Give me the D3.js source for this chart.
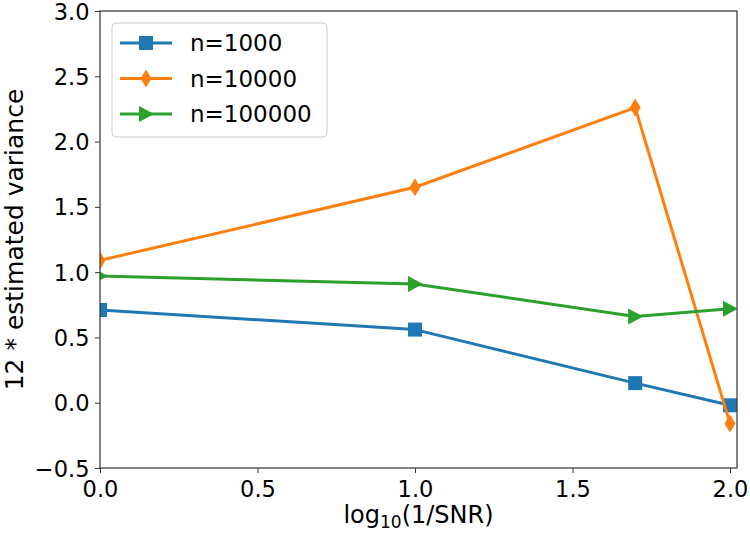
<!DOCTYPE html>
<html>
<head>
<meta charset="utf-8">
<script src="https://cdn.jsdelivr.net/npm/d3@7"></script>
<style>
  body { margin: 0; background: #fff; }
  svg { font-family: "DejaVu Sans", sans-serif; }
</style>
</head>
<body>
<div id="chart"></div>
<script>
// log10(1/SNR) positions
const xValues = [0, 1, Math.log10(50), 2];
const n1000 = [0.71, 0.56, 0.15, -0.02];
const n10000 = [1.09, 1.65, 2.26, -0.16];
const n100000 = [0.97, 0.91, 0.66, 0.72];
const seriesNames = ['n=1000', 'n=10000', 'n=100000'];
const xTicks = [0, 0.5, 1, 1.5, 2];
const yTicks = [-0.5, 0, 0.5, 1, 1.5, 2, 2.5, 3];

const width = 750;
const height = 533;
const margin = { top: 11, right: 13, bottom: 65, left: 100 };

const svg = d3.select('#chart')
  .append('svg')
  .attr('width', width)
  .attr('height', height);

const x = d3.scaleLinear()
  .domain([0, 2.0222])
  .range([margin.left, width - margin.right]);

const y = d3.scaleLinear()
  .domain([-0.5, 3.0])
  .range([height - margin.bottom, margin.top]);

svg.append('defs').append('clipPath')
  .attr('id', 'plot-clip')
  .append('rect')
  .attr('x', margin.left)
  .attr('y', margin.top)
  .attr('width', width - margin.left - margin.right)
  .attr('height', height - margin.top - margin.bottom);

// marker shapes
const square = 'M-7,-7H7V7H-7Z';
const thinDiamond = 'M0,-9L5.5,0L0,9L-5.5,0Z';
const triRight = 'M8,0L-7,-8L-7,8Z';

const series = [
  { name: seriesNames[0], values: n1000, color: '#1f77b4', marker: square },
  { name: seriesNames[1], values: n10000, color: '#ff7f0e', marker: thinDiamond },
  { name: seriesNames[2], values: n100000, color: '#2ca02c', marker: triRight }
];

const line = d3.line()
  .x((d, i) => x(xValues[i]))
  .y(d => y(d));

const plot = svg.append('g').attr('clip-path', 'url(#plot-clip)');

series.forEach(s => {
  const g = plot.append('g');
  g.append('path')
    .datum(s.values)
    .attr('fill', 'none')
    .attr('stroke', s.color)
    .attr('stroke-width', 3)
    .attr('stroke-linejoin', 'round')
    .attr('d', line);
  g.selectAll('.marker')
    .data(s.values)
    .enter()
    .append('path')
    .attr('transform', (d, i) => `translate(${x(xValues[i])},${y(d)})`)
    .attr('d', s.marker)
    .attr('fill', s.color);
});

// axes
const xAxis = svg.append('g')
  .attr('transform', `translate(0,${height - margin.bottom})`)
  .call(d3.axisBottom(x).tickValues(xTicks).tickFormat(d3.format('.1f')).tickSize(5).tickSizeOuter(0));

const yAxis = svg.append('g')
  .attr('transform', `translate(${margin.left},0)`)
  .call(d3.axisLeft(y).tickValues(yTicks).tickFormat(d3.format('.1f')).tickSize(5).tickSizeOuter(0));

[xAxis, yAxis].forEach(ax => {
  ax.select('.domain').remove();
  ax.selectAll('.tick line').attr('stroke', '#333').attr('stroke-width', 1);
  ax.selectAll('.tick text')
    .attr('fill', '#000')
    .style('font-size', '22.5px')
    .style('font-family', '"DejaVu Sans", sans-serif');
});
xAxis.selectAll('.tick text').attr('dy', '1.03em').attr('y', 6);
yAxis.selectAll('.tick text').attr('x', -10.5).attr('dy', '0.36em');

// spines
svg.append('rect')
  .attr('x', margin.left)
  .attr('y', margin.top)
  .attr('width', width - margin.left - margin.right)
  .attr('height', height - margin.top - margin.bottom)
  .attr('fill', 'none')
  .attr('stroke', '#333')
  .attr('stroke-width', 1.2);

// axis labels
const xLabel = svg.append('text')
  .attr('x', (margin.left + width - margin.right) / 2)
  .attr('y', 523)
  .attr('text-anchor', 'middle')
  .style('font-size', '24px');
xLabel.append('tspan').text('log');
xLabel.append('tspan').attr('dy', 5).style('font-size', '17px').text('10');
xLabel.append('tspan').attr('dy', -5).text('(1/SNR)');

svg.append('text')
  .attr('transform', `translate(23,${(margin.top + height - margin.bottom) / 2}) rotate(-90)`)
  .attr('text-anchor', 'middle')
  .style('font-size', '25px')
  .text('12 * estimated variance');

// legend
const legend = svg.append('g');
legend.append('rect')
  .attr('x', 112)
  .attr('y', 23)
  .attr('width', 215)
  .attr('height', 114)
  .attr('rx', 4)
  .attr('fill', '#fff')
  .attr('fill-opacity', 0.8)
  .attr('stroke', '#ccc')
  .attr('stroke-width', 1);

series.forEach((s, i) => {
  const ly = 43 + i * 35.5;
  const g = legend.append('g').attr('transform', `translate(0,${ly})`);
  g.append('line')
    .attr('x1', 120).attr('x2', 172)
    .attr('stroke', s.color)
    .attr('stroke-width', 3);
  g.append('path')
    .attr('transform', 'translate(146,0)')
    .attr('d', s.marker)
    .attr('fill', s.color);
  g.append('text')
    .attr('x', 190)
    .attr('dy', '0.36em')
    .style('font-size', '23px')
    .text(s.name);
});
</script>
</body>
</html>
